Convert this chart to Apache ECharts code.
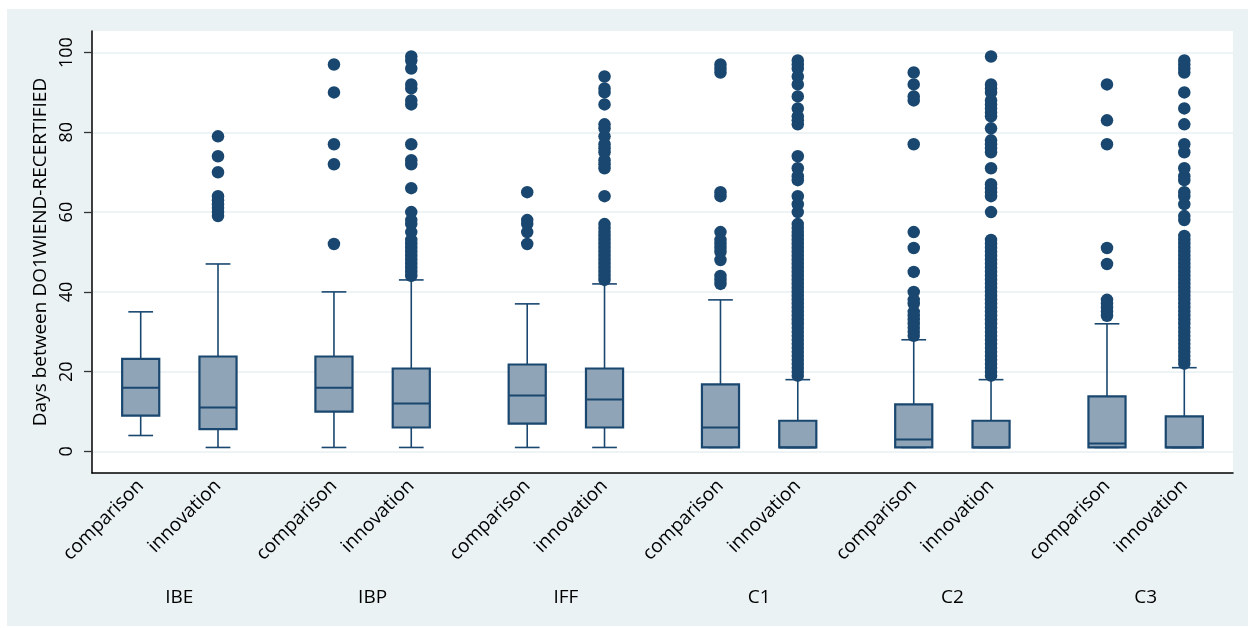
<!DOCTYPE html>
<html>
<head>
<meta charset="utf-8">
<script src="https://cdn.jsdelivr.net/npm/echarts@6/dist/echarts.min.js"></script>
<style>
  html, body { margin: 0; padding: 0; background: #ffffff; }
  #chart { position: absolute; left: 7px; top: 9px; width: 1241px; height: 617px; background: #eaf2f3; }
</style>
</head>
<body>
<div id="chart"></div>
<script>
// Programme groups and study arms
const groups = ['IBE', 'IBP', 'IFF', 'C1', 'C2', 'C3'];
const arms = ['comparison', 'innovation'];
const yTicks = [0, 20, 40, 60, 80, 100];

// Box summaries per group: [lower whisker, Q1, median, Q3, upper whisker]
const comparisonStats = [
  [4, 9, 16, 23.2, 35],
  [1, 10, 16, 23.8, 40],
  [1, 7, 14, 21.8, 37],
  [1, 1, 6, 16.8, 38],
  [1, 1, 3, 11.8, 28],
  [1, 1, 2, 13.8, 32]
];
const innovationStats = [
  [1, 5.6, 11, 23.8, 47],
  [1, 6, 12, 20.8, 43],
  [1, 6, 13, 20.8, 42],
  [1, 1, 1, 7.7, 18],
  [1, 1, 1, 7.7, 18],
  [1, 1, 1, 8.8, 21]
];

// Outside values (days) per group
const comparisonOutliers = [
  [],
  [52, 72, 77, 90, 97],
  [52, 55, 57, 58, 65],
  [42, 43, 44, 48, 50, 51, 52, 53, 55, 64, 65, 95, 96, 97],
  [29, 30, 31, 32, 33, 34, 35, 37, 38, 40, 45, 51, 55, 77, 88, 89, 92, 95],
  [34, 35, 36, 37, 38, 47, 51, 77, 83, 92]
];
const innovationOutliers = [
  [59, 60, 61, 62, 63, 64, 70, 74, 79],
  [44, 45, 46, 47, 48, 49, 50, 51, 52, 53, 55, 57, 58, 60, 66, 72, 73, 77, 87, 88, 91, 92, 96, 98, 99],
  [43, 44, 45, 46, 47, 48, 49, 50, 51, 52, 53, 54, 55, 56, 57, 64, 71, 72, 73, 75, 76, 77, 79, 81, 82, 87, 90, 91, 94],
  [19, 20, 21, 22, 23, 24, 25, 26, 27, 28, 29, 30, 31, 32, 33, 34, 35, 36, 37, 38, 39, 40, 41, 42, 43, 44, 45, 46, 47, 48,
   49, 50, 51, 52, 53, 54, 55, 56, 57, 60, 62, 64, 68, 69, 71, 74, 82, 83, 84, 86, 89, 92, 94, 96, 97, 98],
  [19, 20, 21, 22, 23, 24, 25, 26, 27, 28, 29, 30, 31, 32, 33, 34, 35, 36, 37, 38, 39, 40, 41, 42, 43, 44, 45, 46, 47, 48,
   49, 50, 51, 52, 53, 60, 64, 65, 66, 67, 71, 75, 76, 77, 78, 81, 84, 85, 86, 87, 88, 90, 91, 92, 99],
  [22, 23, 24, 25, 26, 27, 28, 29, 30, 31, 32, 33, 34, 35, 36, 37, 38, 39, 40, 41, 42, 43, 44, 45, 46, 47, 48, 49, 50, 51,
   52, 53, 54, 58, 59, 62, 64, 65, 68, 69, 71, 75, 77, 82, 86, 90, 95, 96, 97, 98]
];

// Layout along the x scale: arms one unit apart, groups 2.5 units apart
const GROUP_STEP = 2.5;
const BOX_W = 0.48;
const CAP_W = 0.32;
const NAVY = '#1a476f';
const FILL = '#8fa4b7';
const FONT = 'Open Sans';

const armPos = (g, a) => g * GROUP_STEP + a;
const statsByArm = [comparisonStats, innovationStats];
const outliersByArm = [comparisonOutliers, innovationOutliers];

const boxData = [];
const dotData = [];
const armTickValues = [];
const armTickNames = {};
groups.forEach((gName, g) => {
  arms.forEach((aName, a) => {
    const x = armPos(g, a);
    boxData.push([x].concat(statsByArm[a][g]));
    outliersByArm[a][g].forEach(v => dotData.push([x, v]));
    armTickValues.push(x);
    armTickNames[x] = aName;
  });
});
const groupTickValues = groups.map((_, g) => armPos(g, 0.5));
const groupTickNames = {};
groups.forEach((gName, g) => { groupTickNames[groupTickValues[g]] = gName; });

const xMin = -0.63;
const xMax = armPos(groups.length - 1, 1) + 0.63;

function renderBox(params, api) {
  const x = api.value(0);
  const lo = api.coord([x, api.value(1)]);
  const q1 = api.coord([x, api.value(2)]);
  const md = api.coord([x, api.value(3)]);
  const q3 = api.coord([x, api.value(4)]);
  const hi = api.coord([x, api.value(5)]);
  const bw = api.size([BOX_W, 0])[0];
  const cw = api.size([CAP_W, 0])[0];
  const cx = lo[0];
  const lineStyle = { stroke: NAVY, lineWidth: 1.6 };
  return {
    type: 'group',
    children: [
      { type: 'line', shape: { x1: cx, y1: lo[1], x2: cx, y2: q1[1] }, style: lineStyle },
      { type: 'line', shape: { x1: cx, y1: q3[1], x2: cx, y2: hi[1] }, style: lineStyle },
      { type: 'line', shape: { x1: cx - cw / 2, y1: lo[1], x2: cx + cw / 2, y2: lo[1] }, style: lineStyle },
      { type: 'line', shape: { x1: cx - cw / 2, y1: hi[1], x2: cx + cw / 2, y2: hi[1] }, style: lineStyle },
      { type: 'rect', shape: { x: cx - bw / 2, y: q3[1], width: bw, height: q1[1] - q3[1] },
        style: { fill: FILL, stroke: NAVY, lineWidth: 2.2 } },
      { type: 'line', shape: { x1: cx - bw / 2, y1: md[1], x2: cx + bw / 2, y2: md[1] },
        style: { stroke: NAVY, lineWidth: 2 } }
    ]
  };
}

const chart = echarts.init(document.getElementById('chart'), null, { renderer: 'canvas' });
chart.setOption({
  backgroundColor: 'transparent',
  animation: false,
  textStyle: { fontFamily: FONT },
  grid: {
    left: 85, top: 22, right: 15, bottom: 153,
    show: true, backgroundColor: '#ffffff', borderWidth: 0
  },
  xAxis: [
    {
      type: 'value', min: xMin, max: xMax, position: 'bottom',
      axisLine: { show: true, onZero: false, lineStyle: { color: '#000000', width: 1.5 } },
      axisTick: { show: false },
      splitLine: { show: false },
      axisLabel: {
        customValues: armTickValues,
        formatter: v => armTickNames[v] || '',
        rotate: 45, margin: 10,
        color: '#000000', fontFamily: FONT, fontSize: 19
      }
    },
    {
      type: 'value', min: xMin, max: xMax, position: 'bottom',
      axisLine: { show: false },
      axisTick: { show: false },
      splitLine: { show: false },
      axisLabel: {
        customValues: groupTickValues,
        formatter: v => groupTickNames[v] || '',
        margin: 115, verticalAlign: 'top',
        color: '#000000', fontFamily: FONT, fontSize: 19
      }
    }
  ],
  yAxis: {
    type: 'value', min: -5.4, max: 105.4,
    name: 'Days between DO1WIEND-RECERTIFIED',
    nameLocation: 'middle', nameGap: 38, nameRotate: 90,
    nameTextStyle: { color: '#000000', fontFamily: FONT, fontSize: 19 },
    axisLine: { show: true, onZero: false, lineStyle: { color: '#000000', width: 1.5 } },
    axisTick: { show: true, length: 8, customValues: yTicks, lineStyle: { color: '#333333', width: 1.3 } },
    axisLabel: {
      customValues: yTicks, rotate: 90, margin: 16,
      color: '#000000', fontFamily: FONT, fontSize: 18
    },
    splitLine: { show: true, lineStyle: { color: '#e8f0f3', width: 1.5 } }
  },
  series: [
    {
      type: 'custom', name: 'box', xAxisIndex: 0,
      renderItem: renderBox,
      encode: { x: 0, y: [1, 2, 3, 4, 5] },
      data: boxData, z: 2
    },
    {
      type: 'scatter', name: 'outside values', xAxisIndex: 0,
      symbol: 'circle', symbolSize: 12.5,
      itemStyle: { color: NAVY, opacity: 1 },
      data: dotData, z: 3
    }
  ]
});
</script>
</body>
</html>
